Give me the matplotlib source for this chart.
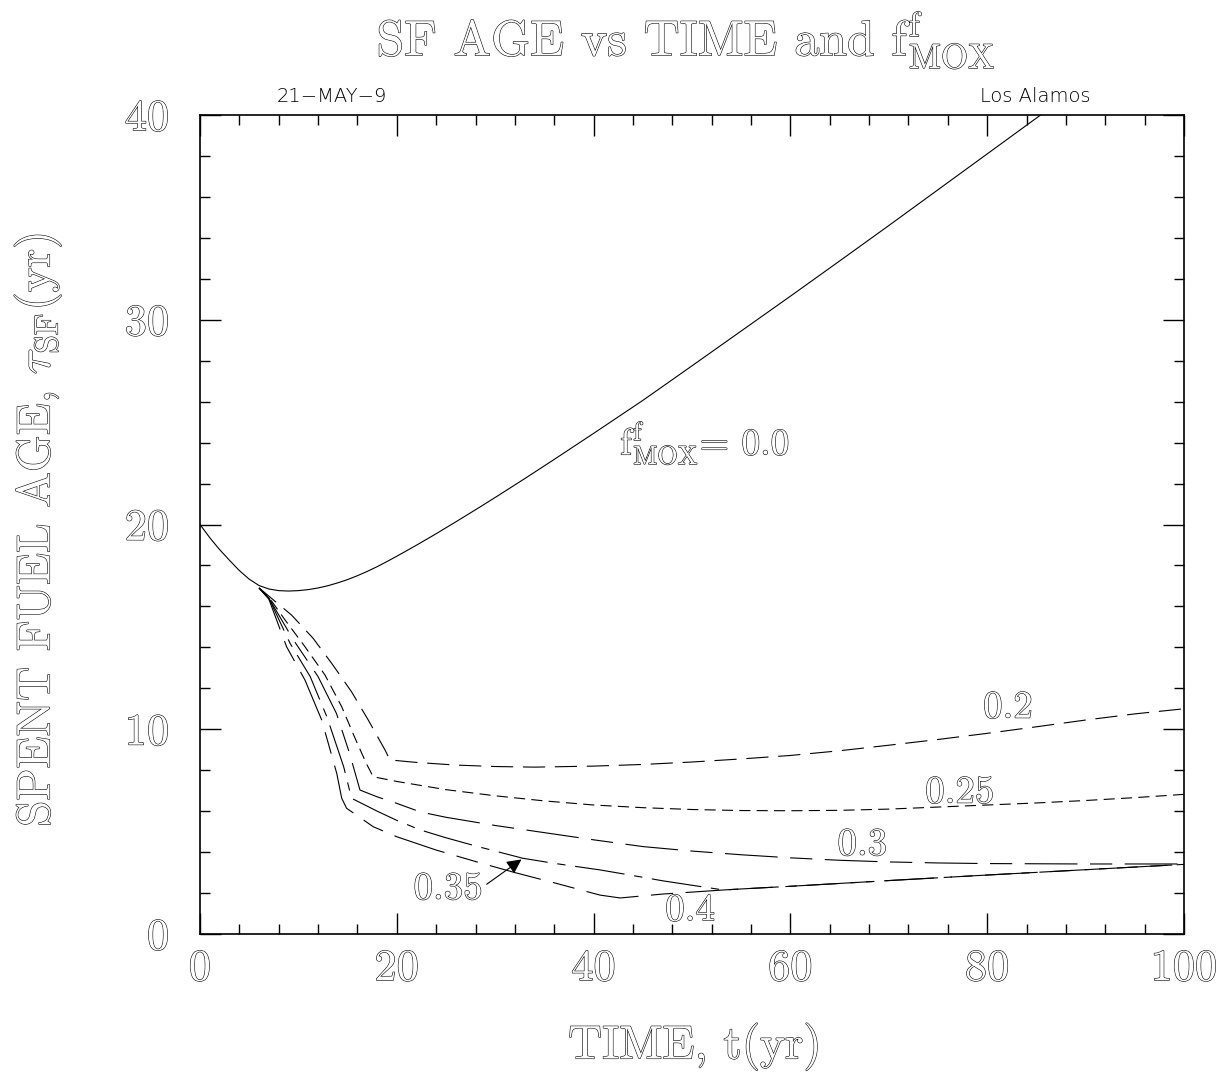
import matplotlib
matplotlib.use("Agg")
import matplotlib.pyplot as plt
import matplotlib.patheffects as pe

plt.rcParams['font.family'] = ['cmr10', 'DejaVu Serif']
plt.rcParams['mathtext.fontset'] = 'cm'
plt.rcParams['axes.unicode_minus'] = False
plt.rcParams['axes.formatter.use_mathtext'] = True
plt.rcParams['lines.scale_dashes'] = False

# f_MOX = 0.0
t_00 = [0, 1, 2, 3, 4, 5, 6, 7, 8, 9, 10, 11, 12, 13, 14, 15, 16, 17, 18, 19,
        20, 22, 24, 26, 28, 30, 33, 36, 40, 45, 50, 55, 60, 65, 70, 75, 80,
        85, 90]
age_00 = [20.0, 19.35, 18.77, 18.25, 17.75, 17.33, 17.02, 16.85, 16.77, 16.75,
          16.77, 16.82, 16.9, 17.01, 17.15, 17.31, 17.5, 17.71, 17.94, 18.19,
          18.45, 18.99, 19.55, 20.13, 20.72, 21.32, 22.24, 23.18, 24.45, 26.06,
          27.75, 29.45, 31.15, 32.87, 34.6, 36.35, 38.1, 39.85, 41.6]

# f_MOX = 0.2
t_020 = [6.0, 7.0, 9.3, 11.5, 13.5, 15.4, 17.1, 18.8, 19.3, 22, 26, 30, 34, 40,
         45, 50, 55, 60, 65, 70, 75, 80, 85, 90, 95, 100]
age_020 = [16.9, 16.5, 15.58, 14.44, 13.14, 11.83, 10.45, 8.99, 8.5, 8.38, 8.25,
           8.18, 8.15, 8.2, 8.28, 8.4, 8.55, 8.72, 8.95, 9.22, 9.5, 9.8, 10.12,
           10.45, 10.75, 11.0]

# f_MOX = 0.25
t_025 = [6.0, 7.0, 8.7, 10.67, 12.7, 14.4, 15.75, 16.9, 17.6, 20, 25, 30, 35,
         40, 45, 50, 55, 60, 65, 70, 75, 80, 85, 90, 95, 100]
age_025 = [16.9, 16.45, 15.3, 14.03, 12.65, 11.1, 9.57, 8.33, 7.68, 7.45, 7.05,
           6.75, 6.5, 6.3, 6.17, 6.08, 6.03, 6.02, 6.04, 6.1, 6.2, 6.3, 6.4,
           6.52, 6.66, 6.82]

# f_MOX = 0.3
t_030 = [6.0, 7.0, 9.5, 12.0, 13.87, 15.2, 16.26, 18, 20, 22.4, 25, 30, 35, 40,
         45, 50, 55, 60, 65, 70, 75, 80, 90, 100]
age_030 = [16.9, 16.4, 14.36, 12.57, 10.77, 8.82, 7.03, 6.7, 6.38, 5.96, 5.7,
           5.3, 4.95, 4.6, 4.27, 4.05, 3.87, 3.72, 3.6, 3.52, 3.47, 3.44, 3.42,
           3.42]

# f_MOX = 0.35
t_035 = [6.0, 7.0, 9.15, 11.2, 12.9, 14.6, 15.4, 18, 20, 22.4, 25, 28, 32.8, 36,
         40.65, 43.7, 47, 50, 53.2, 55, 60, 65, 71.1, 80, 90, 100]
age_035 = [16.9, 16.4, 14.2, 12.57, 10.6, 8.17, 6.63, 6.0, 5.55, 5.08, 4.7, 4.3,
           3.7, 3.45, 3.13, 2.88, 2.6, 2.38, 2.15, 2.2, 2.33, 2.47, 2.64, 2.88,
           3.14, 3.4]

# f_MOX = 0.4
t_040 = [6.0, 7.0, 8.8, 10.67, 12.37, 13.9, 14.4, 14.9, 17.6, 20, 24, 28.5, 32,
         36, 40.65, 42.7, 47, 53.2, 55, 60, 65, 71.1, 80, 90, 100]
age_040 = [16.9, 16.35, 14.03, 12.4, 10.45, 7.84, 6.63, 6.14, 5.24, 4.75, 4.1,
           3.47, 3.0, 2.5, 1.9, 1.76, 1.95, 2.15, 2.2, 2.33, 2.47, 2.64, 2.88,
           3.14, 3.4]

# hollow look of the plotter font
hollow = [pe.Stroke(linewidth=0.8, foreground='black'), pe.Normal()]

fig = plt.figure(figsize=(12.25, 10.8), dpi=100)
ax = fig.add_axes([200/1225, 146/1080, 984/1225, 819/1080])

lw = 0.8
ax.plot(t_00, age_00, color='black', lw=lw, ls='-')
ax.plot(t_020, age_020, color='black', lw=lw, ls=(0, (16, 7)))
ax.plot(t_025, age_025, color='black', lw=lw, ls=(0, (8, 4.5)))
ax.plot(t_030, age_030, color='black', lw=lw, ls=(0, (38, 9, 16, 9)))
ax.plot(t_035, age_035, color='black', lw=lw, ls=(0, (36, 7, 6, 7)))
ax.plot(t_040, age_040, color='black', lw=lw, ls=(4, (38, 9, 16, 9)))

ax.set_xlim(0, 100)
ax.set_ylim(0, 40)
ax.set_xticks([0, 20, 40, 60, 80, 100])
ax.set_xticks(range(0, 101, 4), minor=True)
ax.set_yticks([0, 10, 20, 30, 40])
ax.set_yticks(range(0, 41, 2), minor=True)
ax.tick_params(which='both', direction='in', top=True, right=True, width=1.0)
ax.tick_params(which='major', length=15, labelsize=32, labelcolor='white')
ax.tick_params(which='minor', length=7.5)
ax.tick_params(axis='x', which='major', pad=11)
ax.tick_params(axis='y', which='major', pad=22)
for s in ax.spines.values():
    s.set_linewidth(1.2)
for lbl in ax.get_xticklabels() + ax.get_yticklabels():
    lbl.set_path_effects(hollow)

# curve labels
kw = dict(fontsize=28, ha='center', va='center', color='white', path_effects=hollow)
ax.text(42.7, 24.0, r'$\mathrm{f}^{\mathrm{f}}_{\mathrm{MOX}}$= 0.0',
        **{**kw, 'ha': 'left', 'fontsize': 27})
ax.text(82.1, 11.05, '0.2', **kw)
ax.text(77.2, 6.9, '0.25', **kw)
ax.text(67.3, 4.35, '0.3', **kw)
ax.text(25.2, 2.2, '0.35', **kw)
ax.text(49.8, 1.15, '0.4', **kw)
ax.annotate('', xy=(32.9, 3.72), xytext=(28.9, 2.35),
            arrowprops=dict(arrowstyle='-|>', color='black', lw=0.8,
                            mutation_scale=22))

fig.text(686/1225, 1 - 40/1080, r'SF AGE vs TIME and $\mathrm{f}^{\mathrm{f}}_{\mathrm{MOX}}$',
         fontsize=36, ha='center', va='center', color='white', path_effects=hollow)
fig.text(695/1225, 1 - 1047/1080, 'TIME, t(yr)', fontsize=34, ha='center',
         va='center', color='white', path_effects=hollow)
fig.text(38/1225, 1 - 530/1080, r'SPENT FUEL AGE, $\tau_{\rm SF}$(yr)', fontsize=34,
         ha='center', va='center', rotation=90, color='white', path_effects=hollow)
fig.text(332/1225, 1 - 97/1080, '21\u2212MAY\u22129', fontsize=14, ha='center',
         va='center', family='DejaVu Sans', fontweight='light')
fig.text(1035/1225, 1 - 97/1080, 'Los Alamos', fontsize=14, ha='center',
         va='center', family='DejaVu Sans', fontweight='light')

fig.savefig('out.png', dpi=100)
